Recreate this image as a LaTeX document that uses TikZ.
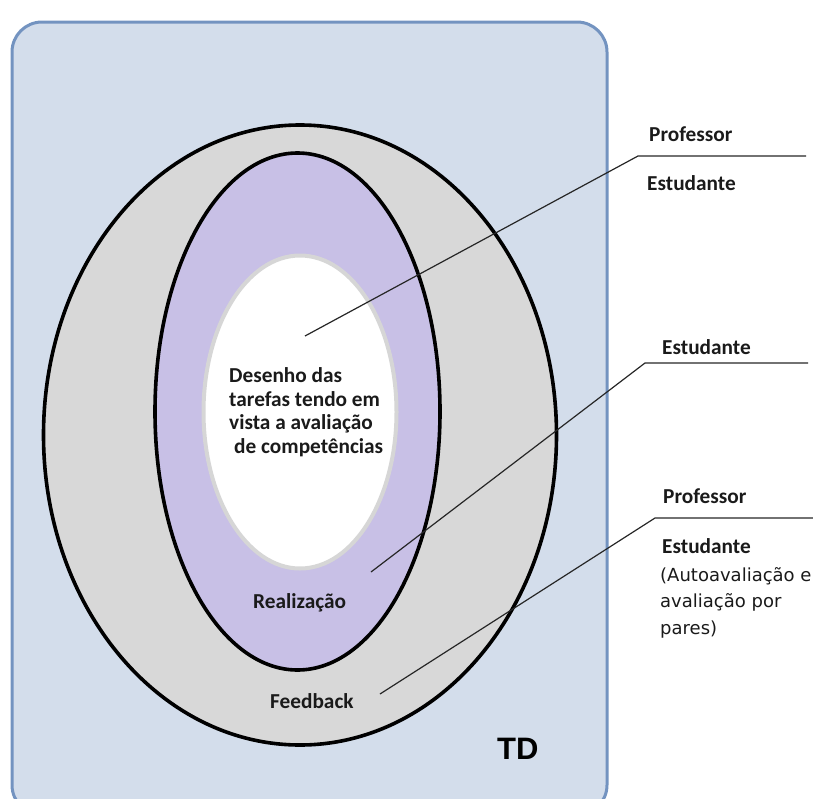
\documentclass[tikz,border=0pt]{standalone}
\usepackage{fontspec}
\setmainfont{Carlito}
\newfontfamily\dvfont{DejaVu Sans}
\newfontfamily\libfont{Liberation Sans}
\usetikzlibrary{shapes.geometric}
\definecolor{tdfill}{HTML}{D3DDEB}
\definecolor{tdline}{HTML}{7393C0}
\definecolor{ringgray}{HTML}{D8D8D8}
\definecolor{lilac}{HTML}{C8C0E6}
\definecolor{innerline}{HTML}{D6D6D6}
\definecolor{txt}{HTML}{1A1A1A}
\tikzset{
  ring/.style={ellipse, draw=black, line width=3.6pt, inner sep=0pt, outer sep=0pt},
  lbl/.style={anchor=base west, inner sep=0pt, text=txt, font=\bfseries\fontsize{21.3}{23.4}\selectfont},
  small/.style={anchor=base west, inner sep=0pt, text=txt, font=\dvfont\fontsize{18}{26.5}\selectfont},
  conn/.style={draw=black!85, line width=1.2pt}
}
\begin{document}
\begin{tikzpicture}[x=1pt,y=-1pt]
\useasboundingbox (0,0) rectangle (813,798);
\begin{scope}
\clip (0,0) rectangle (813,798);
\draw[fill=tdfill, draw=tdline, line width=3pt, rounded corners=30pt] (12,22) rectangle (607,815);
\end{scope}
\node[ring, fill=ringgray, minimum width=513pt, minimum height=620pt] (outer) at (300,435) {};
\node[ring, fill=lilac, minimum width=285pt, minimum height=517pt] (middle) at (297.5,411.5) {};
\node[ellipse, draw=innerline, line width=4pt, fill=white, inner sep=0pt, minimum width=193pt, minimum height=313pt] (inner) at (300,412) {};
% centre text (base anchor = baseline of last line)
\node[lbl, align=left] (task) at (229,453) {Desenho das\\tarefas tendo em\\vista a avaliação\\\hspace*{5pt}de competências};
\node[lbl] (real) at (253,608) {Realização};
\node[lbl] (feed) at (270,708) {Feedback};
\node[anchor=base west, inner sep=0pt, font=\libfont\bfseries\fontsize{31}{31}\selectfont] (td) at (497,759) {TD};
% right labels
\node[lbl] (prof1) at (649,141) {Professor};
\node[lbl] (est1) at (647,190) {Estudante};
\node[lbl] (est2) at (662,354) {Estudante};
\node[lbl] (prof3) at (663,503) {Professor};
\node[lbl] (est3) at (662,553) {Estudante};
\node[small, align=left] (auto) at (660,634) {(Autoavaliação e\\avaliação por\\pares)};
% connectors
\coordinate (a1) at (305,336);
\coordinate (b1) at (638,156);
\coordinate (e1) at (806,156);
\coordinate (a2) at (371,572);
\coordinate (b2) at (645,363);
\coordinate (e2) at (808,363);
\coordinate (a3) at (380,694);
\coordinate (b3) at (655,518);
\coordinate (e3) at (813,518);
\draw[conn] (a1) -- (b1) -- (e1);
\draw[conn] (a2) -- (b2) -- (e2);
\draw[conn] (a3) -- (b3) -- (e3);
\end{tikzpicture}
\end{document}
